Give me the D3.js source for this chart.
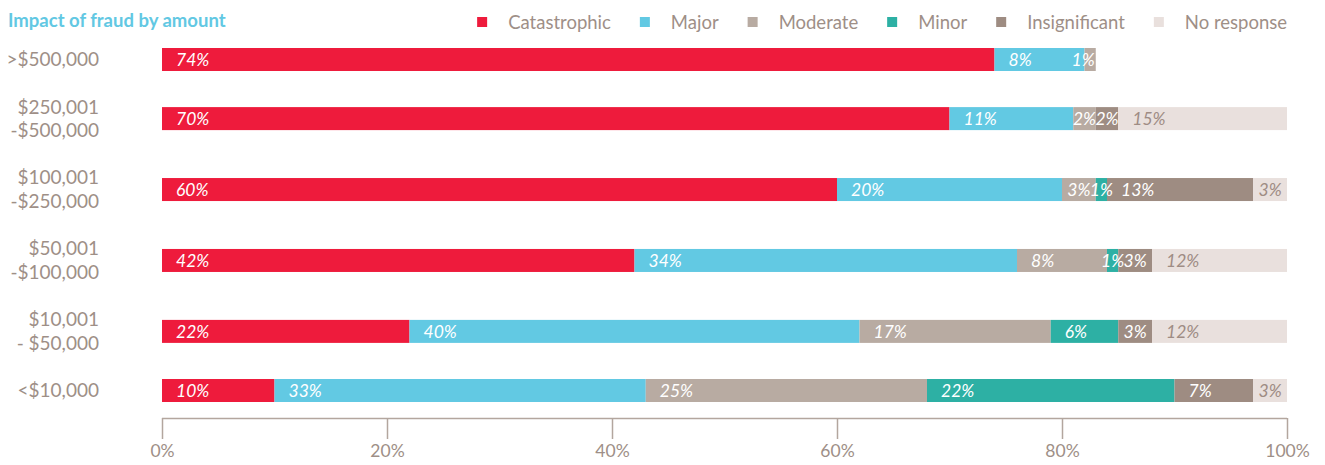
<!DOCTYPE html>
<html>
<head>
<meta charset="utf-8">
<script src="https://cdn.jsdelivr.net/npm/d3@7/dist/d3.min.js"></script>
<style>
  html, body { margin: 0; padding: 0; background: #ffffff; }
  svg { display: block; }
  text { font-family: Lato, "Open Sans", sans-serif; }
</style>
</head>
<body>
<svg id="chart" width="1325" height="465"></svg>
<script>
// Fraud amount bands (each entry holds the label's lines)
const categories = [
  [">$500,000"],
  ["$250,001", "-$500,000"],
  ["$100,001", "-$250,000"],
  ["$50,001", "-$100,000"],
  ["$10,001", "- $50,000"],
  ["<$10,000"]
];

// Impact levels, in stacking order
const seriesNames = ["Catastrophic", "Major", "Moderate", "Minor", "Insignificant", "No response"];

// Share of responses per band (%)
const catastrophic  = [74, 70, 60, 42, 22, 10];
const major         = [8, 11, 20, 34, 40, 33];
const moderate      = [1, 2, 3, 8, 17, 25];
const minor         = [0, 0, 1, 1, 6, 22];
const insignificant = [0, 2, 13, 3, 3, 7];
const noResponse    = [0, 15, 3, 12, 12, 3];

const xTicks = [0, 20, 40, 60, 80, 100];

const seriesValues = [catastrophic, major, moderate, minor, insignificant, noResponse];
const colors = ["#ee1b3c", "#62c9e3", "#b8aba2", "#2db0a4", "#9e8c82", "#e9e0dd"];
const labelColors = ["#ffffff", "#ffffff", "#ffffff", "#ffffff", "#ffffff", "#9e8c84"];
const textGrey = "#9e8f87";

const svg = d3.select("#chart");

// Horizontal scale: 0–100 %
const x = d3.scaleLinear().domain([0, 100]).range([162, 1287]);

// Vertical layout: rows with two-line labels take more room
const weights = categories.map(c => c.length + 1);
const centers = [0];
for (let i = 1; i < weights.length; i++) {
  centers.push(centers[i - 1] + (weights[i - 1] + weights[i]) / 2);
}
const y = d3.scaleLinear().domain([0, centers[centers.length - 1]]).range([59.5, 390.5]);
const barH = 23;

// Stack the series per row
const rows = categories.map((c, i) => {
  let acc = 0;
  const segs = seriesValues.map((vals, s) => {
    const seg = { series: s, value: vals[i], x0: acc, x1: acc + vals[i] };
    acc += vals[i];
    return seg;
  }).filter(d => d.value > 0);
  return { label: c, cy: y(centers[i]), end: acc, segs };
});

// Title
svg.append("text")
  .attr("x", 8).attr("y", 27)
  .attr("fill", "#62c8e3")
  .attr("font-size", 18.5).attr("font-weight", 700)
  .text("Impact of fraud by amount");

// Legend, laid out right-aligned from its text widths
const legend = svg.append("g");
const legendItems = seriesNames.map((name, i) => {
  const g = legend.append("g");
  g.append("rect").attr("width", 10).attr("height", 10).attr("y", 17).attr("fill", colors[i]);
  const t = g.append("text").attr("x", 31).attr("y", 29)
    .attr("font-size", 18.5).attr("fill", textGrey).text(name);
  return { g, w: 31 + t.node().getComputedTextLength() };
});
let lx = 1287;
for (let i = legendItems.length - 1; i >= 0; i--) {
  lx -= legendItems[i].w;
  legendItems[i].g.attr("transform", `translate(${lx},0)`);
  lx -= 29;
}

// Row labels
const rowG = svg.selectAll("g.row").data(rows).join("g").attr("class", "row");
rowG.append("text")
  .attr("text-anchor", "end")
  .attr("font-size", 19)
  .attr("fill", textGrey)
  .selectAll("tspan")
  .data(d => d.label.map((l, k) => ({ l, k, n: d.label.length, cy: d.cy })))
  .join("tspan")
  .attr("x", 99)
  .attr("y", d => d.cy + (d.k - (d.n - 1) / 2) * 23.5)
  .attr("dy", "0.35em")
  .text(d => d.l);

// Bars
rowG.selectAll("rect.seg")
  .data(d => d.segs.map(s => ({ ...s, cy: d.cy })))
  .join("rect")
  .attr("class", "seg")
  .attr("x", d => x(d.x0))
  .attr("y", d => d.cy - barH / 2)
  .attr("width", d => x(d.x1) - x(d.x0))
  .attr("height", barH)
  .attr("fill", d => colors[d.series]);

// Value labels: inset from the left for wide segments, centred on narrow ones
// (kept inside the bar's right end)
const wide = d => d.value >= 5;
rowG.selectAll("text.val")
  .data(d => d.segs.map(s => ({ ...s, cy: d.cy, end: d.end })))
  .join("text")
  .attr("class", "val")
  .attr("text-anchor", d => wide(d) ? "start" : "middle")
  .attr("y", d => d.cy)
  .attr("dy", "0.36em")
  .attr("font-size", 17.5)
  .attr("font-style", "italic")
  .attr("fill", d => labelColors[d.series])
  .text(d => d.value + "%")
  .attr("x", function (d) {
    if (wide(d)) return x(d.x0) + 14;
    const half = this.getComputedTextLength() / 2;
    return Math.min((x(d.x0) + x(d.x1)) / 2, x(d.end) - half - 1);
  });

// Bottom axis
const axisY = 418;
const axisG = svg.append("g").attr("transform", `translate(0,${axisY})`);
axisG.call(d3.axisBottom(x).tickValues(xTicks).tickSize(21).tickFormat(d => d + "%"));
axisG.select(".domain").attr("d", `M${x(0)},0.5H${x(100)}`).attr("stroke", "#b3a69e").attr("stroke-width", 1.5);
axisG.selectAll(".tick line").attr("stroke", "#b3a69e").attr("stroke-width", 1.5);
axisG.selectAll(".tick text")
  .attr("font-family", "Lato, 'Open Sans', sans-serif")
  .attr("font-size", 17.5)
  .attr("fill", textGrey)
  .attr("y", 39)
  .attr("dy", "0");
</script>
</body>
</html>
